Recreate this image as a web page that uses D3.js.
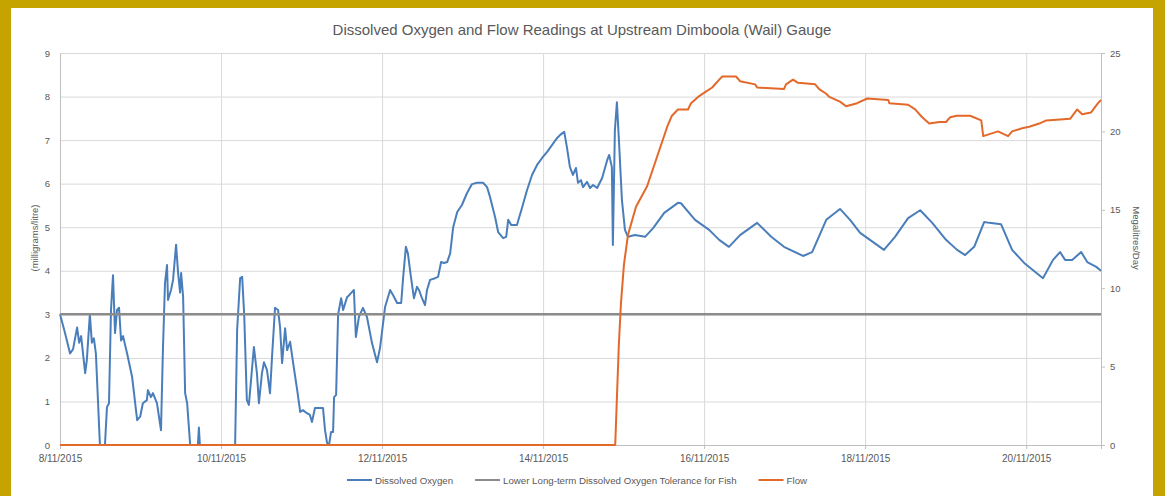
<!DOCTYPE html>
<html><head><meta charset="utf-8">
<script src="https://cdn.jsdelivr.net/npm/d3@7"></script>
<style>
html,body{margin:0;padding:0;background:#fff;}
svg{display:block;}
</style></head>
<body>
<svg id="chart" width="1165" height="496"></svg>
<script>
// ---------- DATA ----------
const chartTitle = "Dissolved Oxygen and Flow Readings at Upstream Dimboola (Wail) Gauge";
const startDateLabel = "8/11/2015";
const endHour = 310.3; // hours after 8/11/2015 00:00 where the record ends
const xTickLabels = ["8/11/2015","10/11/2015","12/11/2015","14/11/2015","16/11/2015","18/11/2015","20/11/2015"];
const leftTicks = [0,1,2,3,4,5,6,7,8,9];
const rightTicks = [0,5,10,15,20,25];
const leftAxisTitle = "(milligrams/litre)";
const rightAxisTitle = "Megalitres/Day";
const seriesNames = ["Dissolved Oxygen","Lower Long-term Dissolved Oxygen Tolerance for Fish","Flow"];
const toleranceValue = 3;

// Dissolved oxygen (mg/L): hours since start, value
const doHours = [0,1.5,3,3.9,5.1,5.7,6.3,7.5,8,8.9,9.5,10.1,10.7,11.9,13.4,14,14.6,15.2,15.8,16.4,17,17.6,18.2,18.8,20,21.5,23,23.9,24.7,25.9,26.2,27.1,27.7,28.9,30.1,30.7,31.3,31.9,32.2,33.1,33.7,34.6,35.2,35.8,36.1,36.7,37.3,37.9,38.8,41.1,41.4,41.7,52.2,52.8,53.7,54.3,54.9,55.7,56.3,57.2,57.8,58.7,59.3,60.2,60.8,61.7,62.6,63.2,64.1,65,65.6,66.2,67.1,67.7,68.6,69.5,70.7,71.6,72.4,73.6,74.5,75.1,76,78.4,79,79.6,80.2,80.8,81.4,81.7,82.3,82.9,83.8,84.4,85.6,86.2,87,87.6,88.2,89.1,90.3,91.5,93,94.5,95.4,96.9,98.4,99.3,100.5,101.7,102.3,103.1,103.7,104.6,105.5,106.4,107,107.9,108.8,109.4,110.3,111.8,112.7,113.6,114.5,115.4,116.3,117.2,118.4,119.8,121.3,122.8,124.3,126.1,127.3,128.2,129.7,130.6,132.1,133,133.6,134.5,136.2,137.7,139.2,140.7,142.2,143.7,145.2,146.7,148.2,149.1,150.3,151.1,152,152.9,153.8,154.4,155.3,155.9,157.1,158,158.9,160.1,161.6,163.1,163.7,164.5,164.8,165.4,166,166.6,167.5,168.4,169.3,171.4,174.4,176.8,180.1,184.2,185.1,189.3,193.5,196.5,199.4,202.7,207.8,212,215.8,221.5,224.2,228.4,232.5,235.5,238.5,242.7,245.6,248.9,252.8,256.4,260,264.1,267.4,269.8,272.5,275.5,277,280.5,283.8,287.4,293,296,298.1,299.6,301.7,304.4,306.2,308.9,310.3];
const doValues = [3.0,2.57,2.1,2.2,2.7,2.35,2.5,1.65,1.95,3.0,2.35,2.45,2.1,0,0,0.87,0.96,3.1,3.9,2.57,3.1,3.15,2.4,2.5,2.1,1.56,0.57,0.65,0.96,1.03,1.26,1.1,1.19,0.96,0.34,2.25,3.72,4.13,3.33,3.56,3.79,4.6,3.95,3.5,3.95,3.4,1.19,0.96,0,0,0.4,0,0,2.64,3.83,3.86,3.0,1.03,0.92,1.72,2.25,1.65,0.96,1.65,1.9,1.72,1.19,2.02,3.15,3.1,2.7,1.88,2.68,2.18,2.37,1.88,1.26,0.76,0.8,0.73,0.69,0.53,0.85,0.85,0.34,0.05,0,0.3,0.3,1.1,1.15,3.0,3.37,3.1,3.4,3.44,3.51,3.56,2.48,2.94,3.15,2.94,2.34,1.9,2.23,3.17,3.56,3.44,3.26,3.26,3.86,4.55,4.4,3.86,3.37,3.63,3.56,3.37,3.21,3.56,3.79,3.83,3.86,4.2,4.18,4.2,4.4,5.0,5.35,5.51,5.78,5.99,6.02,6.02,5.92,5.69,5.23,4.89,4.75,4.78,5.17,5.05,5.05,5.44,5.85,6.2,6.43,6.59,6.73,6.89,7.05,7.12,7.19,6.84,6.38,6.2,6.36,6.02,6.08,5.92,6.04,5.9,5.97,5.9,6.13,6.54,6.66,6.38,4.59,7.23,7.87,7.0,5.62,4.94,4.78,4.82,4.78,4.98,5.33,5.56,5.55,5.17,4.94,4.71,4.55,4.82,5.1,4.78,4.55,4.34,4.43,5.17,5.42,5.17,4.87,4.64,4.48,4.78,5.21,5.39,5.1,4.71,4.48,4.36,4.55,5.12,5.1,5.07,4.48,4.18,3.83,4.25,4.43,4.25,4.25,4.43,4.2,4.09,4.0];

// Flow (ML/day): hours since start, value
const flowHours = [0,165.5,166,166.6,167.2,168.1,169.3,171.7,175,178,181,182.4,184.2,187.2,188.1,190.2,192.3,194.4,196.5,197.4,201.5,202.7,207.2,207.8,215.8,216.4,218.5,220,225.1,226.3,228.4,229.3,232.5,234.3,237.6,240.6,246.9,247.2,252.8,254.9,257,259.1,262.1,264.1,265.3,267.4,271.3,274.6,275.2,279.6,282.6,283.8,286.8,288.9,291.9,294,301.1,303.2,304.7,307.3,309.4,310.3];
const flowValues = [0,0,3,6.5,9,11.5,13.4,15.2,16.5,18.4,20.3,21.0,21.4,21.4,21.8,22.2,22.5,22.8,23.3,23.5,23.5,23.2,23.0,22.8,22.7,23.0,23.3,23.1,23.0,22.7,22.4,22.2,21.9,21.6,21.8,22.1,22.0,21.8,21.7,21.4,20.9,20.5,20.6,20.6,20.9,21.0,21.0,20.7,19.7,20.0,19.7,20.0,20.2,20.3,20.5,20.7,20.8,21.4,21.1,21.2,21.8,22.0];

// ---------- CHART ----------
const parseDay = d3.timeParse("%d/%m/%Y");
const t0 = parseDay(startDateLabel);
const atHour = h => new Date(t0.getTime() + h * 3600000);

const svg = d3.select("#chart");
const W = 1165, H = 496;
const plot = {left: 60, right: 1101, top: 53, bottom: 445};

const colors = {gold: "#C6A400", text: "#595959", grid: "#d9d9d9", axis: "#bfbfbf",
  doLine: "#4A7EBB", tol: "#8C8C8C", flow: "#E3692A"};
const font = "'Liberation Sans', Arial, sans-serif";

// frame
svg.append("rect").attr("x",0).attr("y",0).attr("width",W).attr("height",H).attr("fill",colors.gold);
svg.append("rect").attr("x",11).attr("y",8).attr("width",1153-11).attr("height",H-8).attr("fill","#fff");

const x = d3.scaleTime().domain([t0, atHour(endHour)]).range([plot.left, plot.right]);
const yL = d3.scaleLinear().domain([0, 9]).range([plot.bottom, plot.top]);
const yR = d3.scaleLinear().domain([0, 25]).range([plot.bottom, plot.top]);
const xTicks = xTickLabels.map(parseDay);

// horizontal gridlines
svg.append("g").attr("transform", `translate(${plot.left},0)`)
  .call(d3.axisLeft(yL).tickValues(leftTicks.slice(1)).tickSize(-(plot.right - plot.left)).tickFormat(""))
  .call(g => g.select(".domain").remove())
  .call(g => g.selectAll("line").attr("stroke", colors.grid).attr("stroke-width", 1));

// vertical gridlines
svg.append("g").attr("transform", `translate(0,${plot.top})`)
  .call(d3.axisTop(x).tickValues(xTicks.slice(1)).tickSize(-(plot.bottom - plot.top)).tickFormat(""))
  .call(g => g.select(".domain").remove())
  .call(g => g.selectAll("line").attr("stroke", colors.grid).attr("stroke-width", 1));

// x axis
svg.append("g").attr("transform", `translate(0,${plot.bottom})`)
  .call(d3.axisBottom(x).tickValues(xTicks).tickSize(4).tickPadding(6).tickFormat((d,i) => xTickLabels[i]))
  .call(g => g.select(".domain").attr("stroke", colors.axis))
  .call(g => g.selectAll("line").attr("stroke", colors.axis))
  .call(g => g.selectAll("text").attr("fill", colors.text).attr("font-family", font).attr("font-size", 10));

// left axis
svg.append("g").attr("transform", `translate(${plot.left},0)`)
  .call(d3.axisLeft(yL).tickValues(leftTicks).tickSize(0).tickPadding(10))
  .call(g => g.select(".domain").attr("stroke", colors.axis))
  .call(g => g.selectAll("text").attr("fill", colors.text).attr("font-family", font).attr("font-size", 9.5));

// right axis
svg.append("g").attr("transform", `translate(${plot.right},0)`)
  .call(d3.axisRight(yR).tickValues(rightTicks).tickSize(4).tickPadding(5))
  .call(g => g.select(".domain").attr("stroke", colors.axis))
  .call(g => g.selectAll("line").attr("stroke", colors.axis))
  .call(g => g.selectAll("text").attr("fill", colors.text).attr("font-family", font).attr("font-size", 9.5));

// series
const doLine = d3.line().x((d,i) => x(atHour(doHours[i]))).y(d => yL(d));
svg.append("path").datum(doValues).attr("d", doLine)
  .attr("fill","none").attr("stroke", colors.doLine).attr("stroke-width", 2).attr("stroke-linejoin","round");

svg.append("line")
  .attr("x1", x(t0)).attr("x2", x(atHour(endHour)))
  .attr("y1", yL(toleranceValue)).attr("y2", yL(toleranceValue))
  .attr("stroke", colors.tol).attr("stroke-width", 2.5);

const flowLine = d3.line().x((d,i) => x(atHour(flowHours[i]))).y(d => yR(d));
svg.append("path").datum(flowValues).attr("d", flowLine)
  .attr("fill","none").attr("stroke", colors.flow).attr("stroke-width", 2).attr("stroke-linejoin","round");

// title
svg.append("text").attr("x", 582).attr("y", 35).attr("text-anchor","middle")
  .attr("font-family", font).attr("font-size", 15).attr("fill", colors.text).text(chartTitle);

// axis titles
svg.append("text").attr("transform", "translate(38,238) rotate(-90)").attr("text-anchor","middle")
  .attr("font-family", font).attr("font-size", 9.5).attr("fill", colors.text).text(leftAxisTitle);
svg.append("text").attr("transform", "translate(1133,238) rotate(90)").attr("text-anchor","middle")
  .attr("font-family", font).attr("font-size", 9.5).attr("fill", colors.text).text(rightAxisTitle);

// legend
const legendColors = [colors.doLine, colors.tol, colors.flow];
const lg = svg.append("g");
let cx = 0;
seriesNames.forEach((name, i) => {
  const item = lg.append("g").attr("transform", `translate(${cx},0)`);
  item.append("line").attr("x1",0).attr("x2",25).attr("y1",0).attr("y2",0)
    .attr("stroke", legendColors[i]).attr("stroke-width", 2);
  const t = item.append("text").attr("x", 28).attr("y", 3.5).attr("font-family", font)
    .attr("font-size", 9.7).attr("fill", colors.text).text(name);
  cx += 28 + t.node().getComputedTextLength() + 22;
});
const lw = cx - 22;
lg.attr("transform", `translate(${577 - lw/2},480)`);
</script>
</body></html>
